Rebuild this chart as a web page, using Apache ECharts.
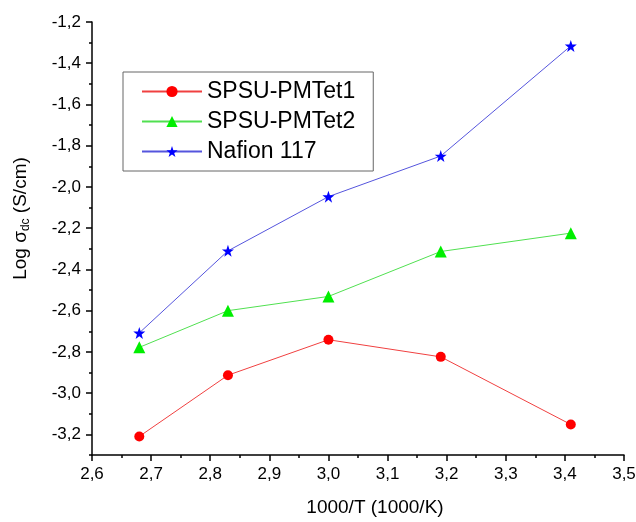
<!DOCTYPE html>
<html>
<head>
<meta charset="utf-8">
<script src="https://cdn.jsdelivr.net/npm/echarts@6/dist/echarts.min.js"></script>
<style>
  html, body { margin: 0; padding: 0; background: #fff; }
  #chart { width: 636px; height: 522px; }
</style>
</head>
<body>
<div id="chart"></div>
<script>
// 1000/T values
const xValues = [2.68, 2.83, 3.0, 3.19, 3.41];
const pmtet1 = [-3.21, -2.913, -2.741, -2.824, -3.152];
const pmtet2 = [-2.778, -2.6, -2.531, -2.313, -2.224];
const nafion = [-2.708, -2.31, -2.047, -1.85, -1.316];
const yMajor = [-3.2, -3.0, -2.8, -2.6, -2.4, -2.2, -2.0, -1.8, -1.6, -1.4, -1.2];
const yMinor = [-3.3, -3.1, -2.9, -2.7, -2.5, -2.3, -2.1, -1.9, -1.7, -1.5, -1.3];

const font = "Liberation Sans, Arial, sans-serif";
const comma = (v) => v.toFixed(1).replace(".", ",");
const pairs = (ys) => xValues.map((x, i) => [x, ys[i]]);

const chart = echarts.init(document.getElementById("chart"));

const option = {
  animation: false,
  grid: { left: 92, right: 12, top: 22, bottom: 67, outerBoundsMode: "none" },
  legend: {
    orient: "vertical",
    left: 123,
    top: 72,
    padding: [8, 18, 8, 18],
    itemGap: 7,
    itemWidth: 60,
    itemHeight: 14,
    borderColor: "#666",
    borderWidth: 1,
    textStyle: { fontSize: 23, fontFamily: font, color: "#000" },
  },
  xAxis: {
    type: "value",
    min: 2.6,
    max: 3.5,
    interval: 0.1,
    name: "1000/T (1000/K)",
    nameLocation: "middle",
    nameGap: 43,
    nameTextStyle: {
      fontSize: 19,
      fontFamily: font,
      color: "#000",
      padding: [0, 0, 0, 34],
    },
    axisLine: { lineStyle: { color: "#000", width: 1.5 } },
    axisTick: { length: 6, lineStyle: { color: "#000", width: 1.5 } },
    minorTick: { show: true, splitNumber: 2, length: 3, lineStyle: { color: "#000", width: 1.5 } },
    axisLabel: {
      margin: 11,
      fontSize: 17,
      fontFamily: font,
      color: "#000",
      formatter: comma,
    },
    splitLine: { show: false },
  },
  yAxis: [
    {
      type: "value",
      min: -3.3,
      max: -1.2,
      name: "{a|Log σ}{b|dc}{a| (S/cm)}",
      nameLocation: "middle",
      nameGap: 60,
      nameRotate: 90,
      nameTextStyle: {
        padding: [0, 0, 0, 40],
        rich: {
          a: { fontSize: 19, fontFamily: font, color: "#000", lineHeight: 22 },
          b: { fontSize: 12, fontFamily: font, color: "#000", lineHeight: 12, verticalAlign: "bottom" },
        },
      },
      axisLine: { show: true, lineStyle: { color: "#000", width: 1.5 } },
      axisTick: { show: true, length: 6, customValues: yMajor, lineStyle: { color: "#000", width: 1.5 } },
      axisLabel: {
        margin: 11,
        fontSize: 17,
        fontFamily: font,
        color: "#000",
        customValues: yMajor,
        formatter: comma,
      },
      splitLine: { show: false },
    },
    {
      type: "value",
      min: -3.3,
      max: -1.2,
      position: "left",
      axisLine: { show: false },
      axisTick: { show: true, length: 3, customValues: yMinor, lineStyle: { color: "#000", width: 1.5 } },
      axisLabel: { show: false },
      splitLine: { show: false },
    },
  ],
  series: [
    {
      name: "SPSU-PMTet1",
      type: "line",
      data: pairs(pmtet1),
      symbol: "circle",
      symbolSize: 10,
      lineStyle: { color: "#f04040", width: 1 },
      itemStyle: { color: "#ff0000" },
    },
    {
      name: "SPSU-PMTet2",
      type: "line",
      data: pairs(pmtet2),
      symbol: "triangle",
      symbolSize: 12,
      lineStyle: { color: "#50e050", width: 1 },
      itemStyle: { color: "#00ee00" },
    },
    {
      name: "Nafion 117",
      type: "line",
      data: pairs(nafion),
      symbol: "path://M50,0 L61.8,35.1 L98.1,35.1 L68.8,56.8 L79.4,91 L50,70 L20.6,91 L31.2,56.8 L1.9,35.1 L38.2,35.1 Z",
      symbolSize: 12,
      lineStyle: { color: "#5555dd", width: 1 },
      itemStyle: { color: "#0000ff" },
    },
  ],
};

chart.setOption(option);
</script>
</body>
</html>
